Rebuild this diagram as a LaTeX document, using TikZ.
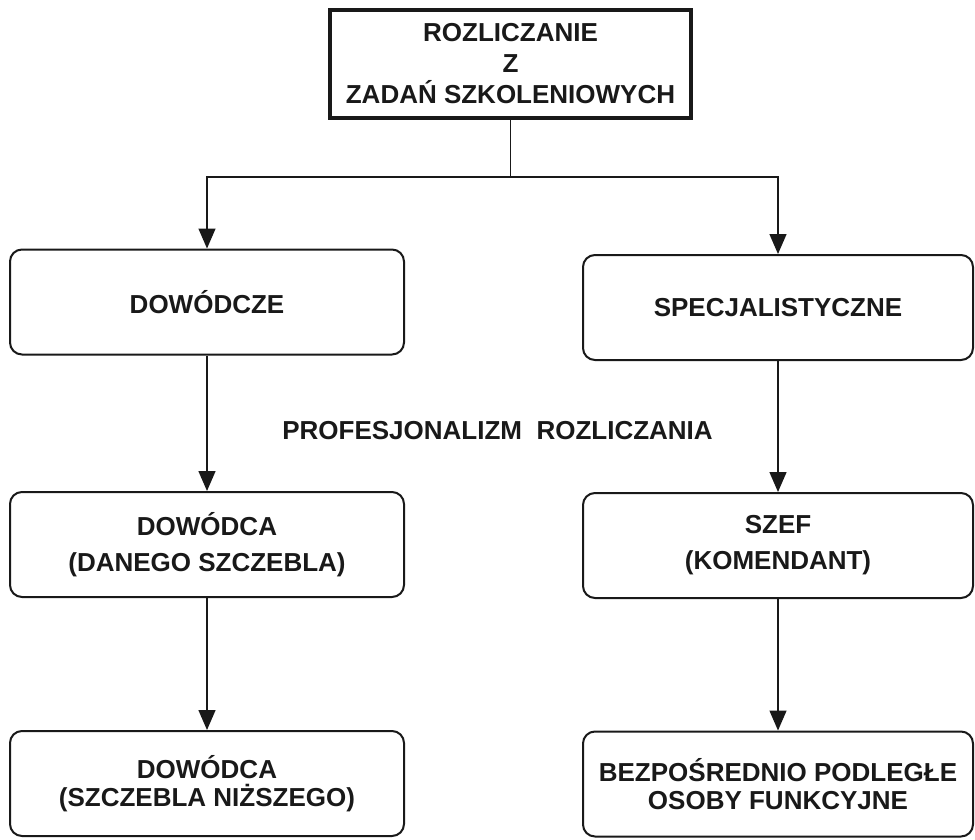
\documentclass[tikz,border=0pt]{standalone}
\usepackage{fontspec}
\setmainfont{Liberation Sans}
\usetikzlibrary{arrows.meta}
\begin{document}
\begin{tikzpicture}[x=1pt,y=-1pt,
  txt/.style={font=\bfseries\fontsize{26}{31}\selectfont, align=center, text=black!90},
  topbox/.style={txt, draw=black!90, line width=3.8pt, minimum width=361pt, minimum height=108pt, inner sep=0pt},
  rbox/.style={txt, draw=black!90, line width=2pt, rounded corners=12pt, minimum width=394pt, minimum height=105pt, inner sep=0pt},
  wide/.style={font=\bfseries\fontsize{26}{36}\selectfont},
  tight/.style={font=\bfseries\fontsize{26}{28}\selectfont},
  arr/.style={draw=black!90, line width=1.4pt, -{Triangle[width=17pt,length=20pt]}},
  ln/.style={draw=black!90, line width=1.4pt}
]
\useasboundingbox (0,0) rectangle (975,839);

% root
\node[topbox] (root) at (510.5,64) {ROZLICZANIE\\Z\\ZADAŃ SZKOLENIOWYCH};

% left column
\node[rbox] (dow) at (207,302) {DOWÓDCZE};
\node[rbox, wide] (dane) at (207,544.5) {DOWÓDCA\\(DANEGO SZCZEBLA)};
\node[rbox, tight] (nizsze) at (207,783.5) {DOWÓDCA\\(SZCZEBLA NIŻSZEGO)};

% right column
\node[rbox, minimum width=390pt] (spec) at (778,307.5) {SPECJALISTYCZNE};
\node[rbox, wide, minimum width=390pt] (szef) at (778,545.5) {SZEF\\(KOMENDANT)};
\node[rbox, tight, minimum width=390pt] (osoby) at (778,784) {BEZPOŚREDNIO PODLEGŁE\\OSOBY FUNKCYJNE};

% middle caption
\node[txt, anchor=base] (prof) at (497.5,439) {PROFESJONALIZM\ \ ROZLICZANIA};

% connectors
\coordinate (split) at (510.5,177);
\draw[ln] (root.south) -- (split);
\draw[arr] (split) -| (dow.north);
\draw[arr] (split) -| (spec.north);
\draw[arr] (dow.south) -- (dane.north);
\draw[arr] (dane.south) -- (nizsze.north);
\draw[arr] (spec.south) -- (szef.north);
\draw[arr] (szef.south) -- (osoby.north);
\end{tikzpicture}
\end{document}
